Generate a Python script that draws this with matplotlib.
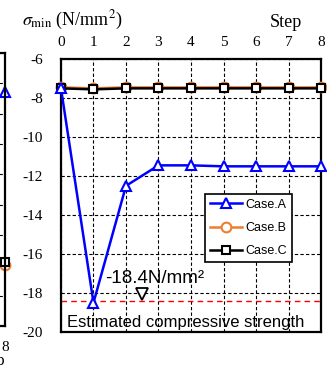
"""
Minimum principal stress by analysis step, three cases.
"""

import matplotlib
matplotlib.use("Agg")
import matplotlib.pyplot as plt

matplotlib.style.use({
    'font.family': ['Liberation Serif', 'DejaVu Serif'],
    'mathtext.fontset': 'stix',
    'font.size': 11.0,
    'axes.unicode_minus': False,
})

steps = [0, 1, 2, 3, 4, 5, 6, 7, 8]
case_a = [-7.5, -18.5, -12.5, -11.45, -11.45, -11.5, -11.5, -11.5, -11.5]
case_b = [-7.45, -7.5, -7.45, -7.45, -7.45, -7.45, -7.45, -7.45, -7.45]
case_c = [-7.5, -7.55, -7.5, -7.5, -7.5, -7.5, -7.5, -7.5, -7.5]
strength = -18.4
y_ticks = [-6, -8, -10, -12, -14, -16, -18, -20]

# neighbouring panel, only its right edge shows in the crop
left_a_end = -1.3
left_b_end = -7.0
left_c_end = -6.9

sans = ['Liberation Sans', 'DejaVu Sans']


def grid_style(ax):
    ax.grid(True, color="black", linestyle=(0, (3, 2)), linewidth=0.8)
    for s in ax.spines.values():
        s.set_linewidth(1.6)


fig = plt.figure(figsize=(3.27, 3.65), dpi=100)

# partial left panel
axl = fig.add_axes([-0.80, 0.107, 0.8153, 0.748])
axl.plot([8], [left_a_end], color="blue", marker="^", mfc="white", mew=1.5, ms=7)
axl.plot([8], [left_b_end], color="#ED7D31", marker="o", mfc="white", mew=1.5, ms=7)
axl.plot([8], [left_c_end], color="black", marker="s", mfc="white", mew=1.5, ms=6)
axl.set_xlim(0, 8)
axl.set_ylim(-9, 0)
axl.set_yticks(range(-9, 1))
axl.set_xticks([8])
axl.set_yticklabels([])
axl.tick_params(length=0, labelsize=11, pad=11)
axl.set_xlabel("Step", loc="right", labelpad=-1, fontsize=12)
grid_style(axl)
for pt in axl.get_lines():
    pt.set_clip_on(False)

# main panel
ax = fig.add_axes([0.1865, 0.0904, 0.7952, 0.7476])
ax.plot(steps, case_b, color="#ED7D31", marker="o", mfc="white", mew=1.5, ms=7,
        lw=1.8, label="Case.B", clip_on=False, zorder=3)
ax.plot(steps, case_c, color="black", marker="s", mfc="white", mew=1.5, ms=6,
        lw=1.8, label="Case.C", clip_on=False, zorder=4)
ax.plot(steps, case_a, color="blue", marker="^", mfc="white", mew=1.5, ms=7,
        lw=1.8, label="Case.A", clip_on=False, zorder=5)
ax.axhline(strength, color="red", linestyle=(0, (4, 3)), linewidth=1.0, zorder=2)

ax.set_xlim(0, 8)
ax.set_ylim(-20, -6)
ax.set_xticks(steps)
ax.set_yticks(y_ticks)
ax.xaxis.tick_top()
ax.tick_params(axis="x", length=0, labelsize=11, pad=7)
ax.tick_params(axis="y", length=0, labelsize=11, pad=13)
grid_style(ax)

ax.text(1.35, strength + 1.15, "-18.4N/mm²", fontsize=13.5, family=sans,
        ha="left", va="center", zorder=6)
ax.plot([2.5], [strength + 0.35], marker="v", mfc="white", mec="black",
        mew=1.3, ms=8, lw=0, zorder=6)
ax.text(3.85, -19.5, "Estimated compressive strength", fontsize=12,
        family=sans, ha="center", va="center", zorder=6)

handles, labels = ax.get_legend_handles_labels()
order = [2, 0, 1]
leg = ax.legend([handles[i] for i in order], [labels[i] for i in order],
                loc="upper left", bbox_to_anchor=(0.555, 0.507),
                prop={'family': sans, 'size': 9}, fancybox=False,
                edgecolor="black", framealpha=1, handlelength=2.5,
                borderaxespad=0, labelspacing=0.9, handletextpad=0.3)
leg.get_frame().set_linewidth(1.2)

fig.text(0.067, 0.93, r"$\sigma_{\rm min}$ (N/mm$^2$)", fontsize=13,
         ha="left", va="baseline")
fig.text(0.924, 0.926, "Step", fontsize=13, ha="right", va="baseline")

fig.savefig("out.png", dpi=100)
